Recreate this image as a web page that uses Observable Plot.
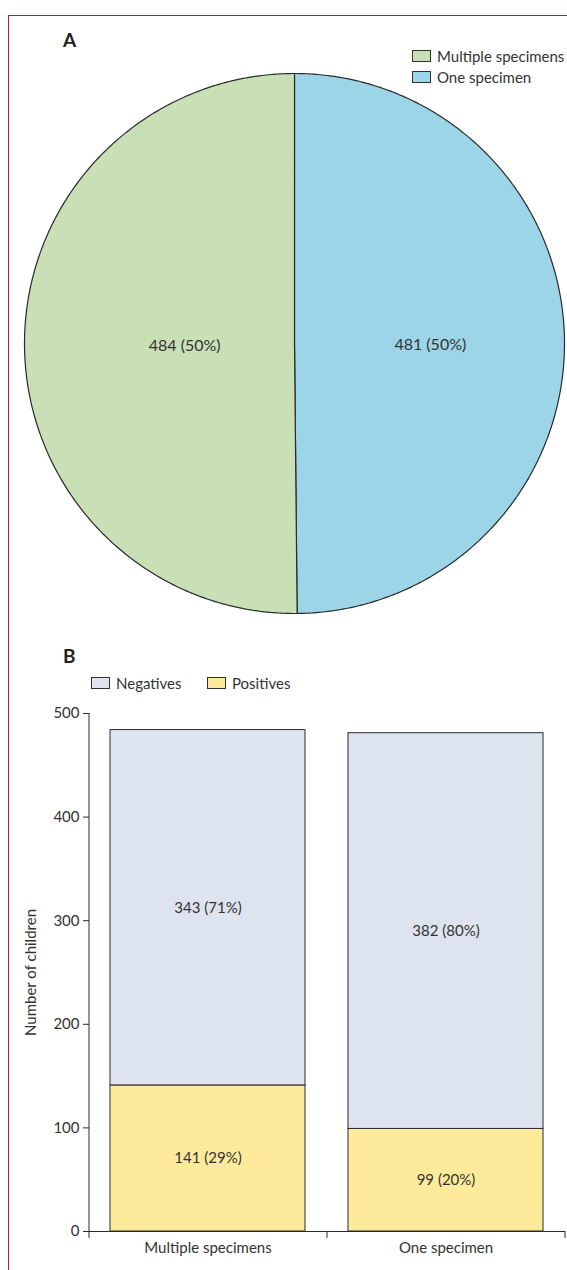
<!DOCTYPE html>
<html><head><meta charset="utf-8">
<script src="https://cdn.jsdelivr.net/npm/d3@7"></script>
<script src="https://cdn.jsdelivr.net/npm/@observablehq/plot@0.6"></script>
<style>
body{margin:0;background:#fff;}
#page{position:relative;width:567px;height:1270px;overflow:hidden;font-family:Lato,sans-serif;color:#333;}
.frame{position:absolute;left:8px;top:15px;right:-10px;bottom:-10px;border-top:1.5px solid #c8103c;border-left:1.5px solid #c8103c;}
.panel{position:absolute;font-weight:bold;font-size:19px;line-height:19px;color:#222;z-index:2;}
.leg{position:absolute;font-size:15px;height:18px;line-height:18px;display:flex;align-items:center;z-index:2;white-space:nowrap;}
.sw{display:inline-block;width:17px;height:10px;border:1px solid #333;margin-right:6px;}
#pie,#bars{position:absolute;left:0;}
#pie{top:0;} #bars{top:700px;}
</style>
</head><body><div id="page">
<div class="frame"></div>
<div class="panel" style="left:63px;top:30px;">A</div>
<div class="leg" style="left:412px;top:47px;"><span class="sw" style="background:#c9e0b6"></span>Multiple specimens</div>
<div class="leg" style="left:412px;top:68px;"><span class="sw" style="background:#9dd5e8"></span>One specimen</div>
<div class="panel" style="left:63px;top:646px;">B</div>
<div class="leg" style="left:91px;top:674px;"><span class="sw" style="background:#dde3ef"></span>Negatives</div>
<div class="leg" style="left:207px;top:674px;"><span class="sw" style="background:#fdeb9b"></span>Positives</div>
<div id="pie"></div>
<div id="bars"></div>
</div>
<script>
// ---- Panel A data ----
const pieCategories = ["One specimen", "Multiple specimens"];
const pieValues = [481, 484];
const pieLabels = ["481 (50%)", "484 (50%)"];

// ---- Panel B data ----
const barGroups = ["Multiple specimens", "One specimen"];
const positives = [141, 99];
const negatives = [343, 382];
const positiveLabels = ["141 (29%)", "99 (20%)"];
const negativeLabels = ["343 (71%)", "382 (80%)"];
const yTicks = [0, 100, 200, 300, 400, 500];

// styles
const pieFill = {"One specimen": "#9dd5e8", "Multiple specimens": "#c9e0b6"};
const outline = "#2a2a2a";

// Pie geometry from data
const pieData = pieCategories.map((c, i) => ({category: c, value: pieValues[i], label: pieLabels[i]}));
const arcs = d3.pie().sort(null).value(d => d.value)(pieData);
const slices = arcs.map(a => {
  const pts = [{x: 0, y: 0}];
  const n = Math.max(2, Math.ceil((a.endAngle - a.startAngle) / (Math.PI / 360)));
  for (let i = 0; i <= n; i++) {
    const t = a.startAngle + (a.endAngle - a.startAngle) * i / n;
    pts.push({x: Math.sin(t), y: Math.cos(t)});
  }
  pts.push({x: 0, y: 0});
  return {arc: a, pts};
});
const labelR = 0.455;
const mid = a => (a.startAngle + a.endAngle) / 2;

const pie = Plot.plot({
  width: 567, height: 630,
  marginLeft: 24, marginRight: 3, marginTop: 73, marginBottom: 17,
  x: {domain: [-1, 1], axis: null},
  y: {domain: [-1, 1], axis: null},
  style: {fontFamily: "Lato, sans-serif", fontSize: "15px", color: "#333", background: "transparent", overflow: "visible"},
  marks: [
    ...slices.map(s => Plot.line(s.pts, {x: "x", y: "y", fill: pieFill[s.arc.data.category], stroke: outline, strokeWidth: 1.2, strokeLinejoin: "round"})),
    Plot.text(arcs, {x: a => labelR * Math.sin(mid(a)), y: a => labelR * Math.cos(mid(a)), text: a => a.data.label, fontSize: 16, dx: 13, dy: 2, fill: "#333"})
  ]
});
document.getElementById("pie").append(pie);

// Bars
const barRows = barGroups.flatMap((g, i) => [
  {group: g, status: "Positives", value: positives[i], label: positiveLabels[i]},
  {group: g, status: "Negatives", value: negatives[i], label: negativeLabels[i]}
]);
const W = 567, mL = 89, mR = 2;
const step = (W - mL - mR) / barGroups.length;

const bars = Plot.plot({
  width: W, height: 570,
  marginLeft: mL, marginRight: mR, marginTop: 13, marginBottom: 39,
  x: {domain: barGroups, paddingInner: 0.18, paddingOuter: 0.09, axis: null},
  y: {domain: [0, 500], axis: null},
  color: {domain: ["Negatives", "Positives"], range: ["#dde3ef", "#fdeb9b"]},
  style: {fontFamily: "Lato, sans-serif", fontSize: "15px", color: "#333", background: "transparent", overflow: "visible"},
  marks: [
    Plot.barY(barRows, {x: "group", y: "value", z: "status", fill: "status", stroke: outline, strokeWidth: 1, order: ["Positives", "Negatives"]}),
    Plot.text(barRows, Plot.stackY({x: "group", y: "value", z: "status", text: "label", order: ["Positives", "Negatives"], fontSize: 15, fill: "#333"})),
    Plot.axisY({ticks: yTicks, tickSize: 6, tickPadding: 4, stroke: outline, label: "Number of children", labelAnchor: "center", labelOffset: 64, labelArrow: "none"}),
    Plot.axisX({tickSize: 0, tickPadding: 11, label: null}),
    Plot.axisX({ticks: barGroups, tickSize: 7, tickFormat: () => "", dx: -step / 2, stroke: outline, label: null}),
    Plot.axisX({ticks: barGroups.slice(-1), tickSize: 7, tickFormat: () => "", dx: step / 2, stroke: outline, label: null}),
    Plot.ruleY([0], {stroke: outline}),
    Plot.ruleX(barGroups.slice(0, 1), {y1: 0, y2: 500, dx: -step / 2, stroke: outline})
  ]
});
document.getElementById("bars").append(bars);
</script>
</body></html>
